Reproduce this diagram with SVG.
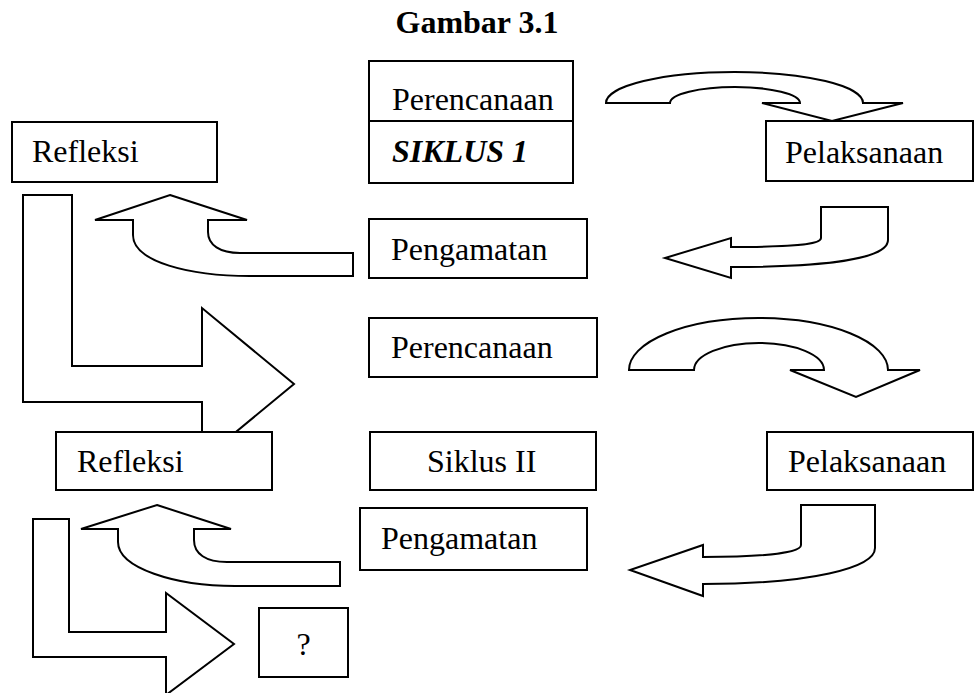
<svg xmlns="http://www.w3.org/2000/svg" width="974" height="693" viewBox="0 0 974 693">
<style>
.bx{fill:#fff;stroke:#000;stroke-width:2}
.ar{fill:#fff;stroke:#000;stroke-width:2;stroke-linejoin:miter}
.t{font-family:"Liberation Serif","Times New Roman",serif;font-size:32px;fill:#000}
.b{font-weight:bold}
.bi{font-weight:bold;font-style:italic}
</style>
<rect width="974" height="693" fill="#fff"/>
<text class="t b" x="477" y="33" text-anchor="middle">Gambar 3.1</text>
<g id="connectors">
<path class="ar" d="M23,195 L72,195 L72,366 L202,366 L202,308 L294,384 L202,460 L202,402 L23,402 Z"/>
<path class="ar" d="M33,519 L69,519 L69,632 L166,632 L166,593 L234,644 L166,695 L166,657 L33,657 Z"/>
<path class="ar" d="M170,195 L247,220 L208,220 L208,232 C208,245 220,253 240,253 L353,253 L353,276 L250,276 C190,276 133,262 133,235 L133,220 L95,220 Z"/>
<path class="ar" d="M157,505 L231,529 L194,529 L194,540 C194,554 206,562 227,562 L340,562 L340,586 L235,586 C175,586 118,568 118,542 L118,529 L81,529 Z"/>
<path class="ar" d="M606,103 A128.5,31 0 0 1 863,103 L903,103 L832,121 L762,103 L800,103 A65,16 0 0 0 670,103 Z"/>
<path class="ar" d="M629,370 A129.5,52 0 0 1 888,370 L920,370 L856,397 L790,370 L824,370 A65,27 0 0 0 694,370 Z"/>
<path class="ar" d="M821,207 L888,207 L888,240 C888,258 830,267 731,267 L731,278 L665,258 L731,238 L731,247 C790,247 821,245 821,238 Z"/>
<path class="ar" d="M801,505 L875,505 L875,548 C875,568 810,584 703,584 L703,596 L630,570 L703,545 L703,557 C770,557 801,552 801,545 Z"/>
</g>
<g id="perencanaan1"><rect class="bx" x="369" y="61" width="204" height="60"/><text class="t" x="392" y="110">Perencanaan</text></g>
<g id="siklus1"><rect class="bx" x="369" y="121" width="204" height="62"/><text class="t bi" x="392" y="162">SIKLUS 1</text></g>
<g id="refleksi1"><rect class="bx" x="12" y="122" width="205" height="60"/><text class="t" x="32" y="162">Refleksi</text></g>
<g id="pelaksanaan1"><rect class="bx" x="766" y="121" width="207" height="60"/><text class="t" x="785" y="163">Pelaksanaan</text></g>
<g id="pengamatan1"><rect class="bx" x="369" y="219" width="218" height="59"/><text class="t" x="391" y="260">Pengamatan</text></g>
<g id="perencanaan2"><rect class="bx" x="369" y="318" width="228" height="59"/><text class="t" x="391" y="358">Perencanaan</text></g>
<g id="refleksi2"><rect class="bx" x="56" y="432" width="216" height="58"/><text class="t" x="77" y="472">Refleksi</text></g>
<g id="siklus2"><rect class="bx" x="370" y="432" width="226" height="58"/><text class="t" x="427" y="472">Siklus II</text></g>
<g id="pelaksanaan2"><rect class="bx" x="767" y="432" width="206" height="58"/><text class="t" x="788" y="472">Pelaksanaan</text></g>
<g id="pengamatan2"><rect class="bx" x="360" y="508" width="227" height="62"/><text class="t" x="381" y="549">Pengamatan</text></g>
<g id="question"><rect class="bx" x="259" y="608" width="89" height="69"/><text class="t" x="303.5" y="655" text-anchor="middle" font-size="28">?</text></g>
</svg>
